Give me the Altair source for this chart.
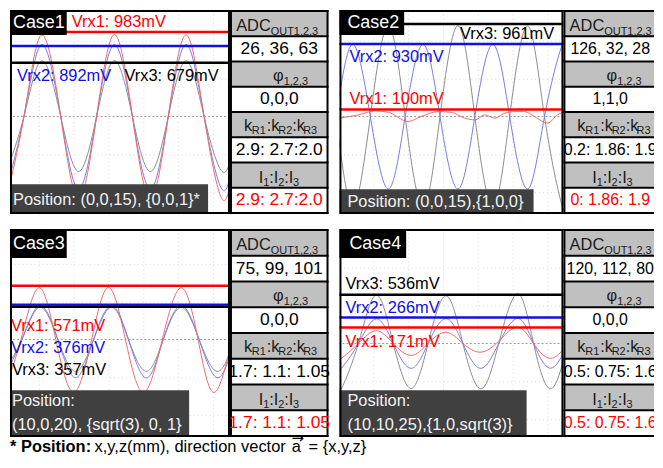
import altair as alt
import pandas as pd

FONT = "Liberation Sans, Arial, Helvetica, sans-serif"

# ---------------- values ----------------
CASES = ["Case1", "Case2", "Case3", "Case4"]
VRX1_MV = [983, 100, 571, 171]
VRX2_MV = [892, 930, 376, 266]
VRX3_MV = [679, 961, 357, 536]
POSITIONS = [
    ["Position: (0,0,15), {0,0,1}*"],
    ["Position: (0,0,15),{1,0,0}"],
    ["Position:", "(10,0,20), {sqrt(3), 0, 1}"],
    ["Position:", "(10,10,25),{1,0,sqrt(3)}"],
]

ADC_OUT = ["26, 36, 63", "126, 32, 28", "75, 99, 101", "120, 112, 80"]
PHI = ["0,0,0", "1,1,0", "0,0,0", "0,0,0"]
K_RATIO = ["2.9: 2.7:2.0", "0.2: 1.86: 1.9", "1.7: 1.1: 1.05", "0.5: 0.75: 1.6"]
I_RATIO = ["2.9: 2.7:2.0", "0: 1.86: 1.9", "1.7: 1.1: 1.05", "0.5: 0.75: 1.6"]

# level (amplitude) lines, screen units (0 = centre line)
LEVEL_RX1 = [1062, 87, 675, 200]
LEVEL_RX2 = [887, 912, 437, 325]
LEVEL_RX3 = [675, 1162, 412, 612]
MIDLINE = [0]

# waveforms: sample positions (t) and readings (v)
C1_T = [0, 2, 20, 38, 57, 75, 93, 111, 129, 147, 165, 183, 201, 219, 230]
C1_RX1 = [-1010, -1025, 0, 1025, 0, -1030, 0, 1030, 0, -1030, 0, 1025, 0, -1035, -620]
C1_RX2 = [-900, -910, 0, 905, 0, -910, 0, 905, 0, -910, 0, 905, 0, -915, -545]
C1_RX3 = [-690, -700, 0, 700, 0, -690, 0, 700, 0, -690, 0, 700, 0, -690, -410]

C2_T = [0, 15, 32, 50, 67, 85, 102, 120, 137, 155, 172, 190, 207, 225, 230]
C2_RX2 = [200, 905, 0, -910, 0, 905, 0, -910, 0, 905, 0, -910, 0, 905, 815]
C2_RX3 = [-250, -1130, 0, 1140, 0, -1130, 0, 1140, 0, -1130, 0, 1140, 0, -1130, -1020]
C2_T1 = [0, 20, 37, 50, 70, 83, 100, 113, 127, 137, 147, 157, 167, 177, 187, 197, 210, 220, 230]
C2_RX1 = [-21, 21, 71, 54, -62, 0, 62, 54, -21, -42, 21, -21, 42, 62, 62, 0, -83, 21, 71]

C3_T1 = [0, 17, 35, 52, 70, 88, 105, 122, 140, 159, 178, 195, 211, 230]
C3_RX1 = [-640, 0, 650, 0, -662, 0, 655, 0, -665, 0, 650, 0, -665, 40]
C3_T2 = [0, 18, 36, 54, 72, 90, 108, 125, 143, 160, 178, 196, 214, 230]
C3_RX2 = [-470, 0, 425, 0, -480, 0, 425, 0, -483, 0, 425, 0, -480, -85]
C3_RX3 = [-390, 0, 405, 0, -400, 0, 405, 0, -400, 0, 405, 0, -400, -70]

C4_T = [0, 3, 20, 38, 55, 73, 90, 108, 125, 143, 161, 180, 196, 213, 230]
C4_RX3 = [-555, -565, 0, 610, 0, -565, 0, 600, 0, -570, 0, 625, 0, -570, -25]
C4_RX2 = [-300, -310, 0, 310, 0, -312, 0, 312, 0, -312, 0, 315, 0, -310, -15]
C4_RX1 = [-180, -185, 0, 160, 0, -150, 0, 141, 0, -109, 30, 204, 0, -187, -10]

GRID_X = [35, 70, 105, 140, 175, 210]
GRID_Y = [-950, -475, 475, 950]

FOOT_BOLD = "* Position:"
FOOT_TEXT = "x,y,z(mm), direction vector"
FOOT_VEC = "a"
FOOT_ARROW = "→"
FOOT_EQ = "= {x,y,z}"

# ---------------- styling / layout ----------------
RED, BLUE, BLACK = "#ff0000", "#1010e0", "#000000"
WAVE_COL = {"r": "#f06a6a", "b": "#7a7ae6", "k": "#8c8c8c"}
HEAD_GRAY = "#c0c0c0"

WAVES = [
    [(C1_T, C1_RX3, "k", "natural"), (C1_T, C1_RX2, "b", "natural"), (C1_T, C1_RX1, "r", "natural")],
    [(C2_T, C2_RX3, "k", "natural"), (C2_T, C2_RX2, "b", "natural"), (C2_T1, C2_RX1, "r", "monotone")],
    [(C3_T2, C3_RX3, "k", "natural"), (C3_T2, C3_RX2, "b", "natural"), (C3_T1, C3_RX1, "r", "natural")],
    [(C4_T, C4_RX3, "k", "natural"), (C4_T, C4_RX2, "b", "natural"), (C4_T, C4_RX1, "r", "natural")],
]

LAYOUT = [
    dict(W=221, H=205, xdom=[6, 227], ydom=[-1225, 1337.5], case_box=(0, 57, 0, 25), case_txt=(3, 13),
         rx_txt=[(62, 12), (7, 66), (115, 66)], pos_box=(0, 199, 175, 205), pos_txt=[(3, 191)]),
    dict(W=225, H=205, xdom=[1, 226], ydom=[-1225, 1337.5], case_box=(0, 65, 0, 25), case_txt=(8, 13),
         rx_txt=[(10, 89), (10, 47), (121, 24)], pos_box=(0, 195, 180, 205), pos_txt=[(8, 193)]),
    dict(W=221, H=209, xdom=[6, 227], ydom=[-1225, 1387.5], case_box=(0, 57, 0, 29), case_txt=(3, 15),
         rx_txt=[(1, 97), (1, 120), (2, 142)], pos_box=(0, 180, 162, 209), pos_txt=[(2, 173), (2, 197)]),
    dict(W=225, H=209, xdom=[1, 226], ydom=[-1175, 1437.5], case_box=(0, 67, 0, 29), case_txt=(10, 15),
         rx_txt=[(6, 114), (6, 79), (6, 55)], pos_box=(0, 188, 162, 209), pos_txt=[(8, 173), (8, 197)]),
]

TABLE_W = [110, 91, 110, 91]    # chart widths (left tables include the gap)
TABLE_VW = [99, 91, 99, 91]     # drawn width of the table
TABLE_RIGHT = [True, False, True, False]   # right border visible (cut off on the right tables)
TABLE_TXT = [(49.5, 17.5), (47, 16), (49.5, 17.5), (47, 16)]


def text_layer(text, x, y, color, size, weight="normal", align="left", baseline="middle", font=FONT):
    return alt.Chart(pd.DataFrame({"label": [text]})).mark_text(
        align=align, baseline=baseline, fontSize=size, fontWeight=weight, color=color, font=font
    ).encode(x=alt.value(x), y=alt.value(y), text="label:N")


def rect_layer(x0, x1, y0, y1, fill, stroke=None, sw=0, opacity=1):
    kw = dict(fill=fill, fillOpacity=opacity)
    if stroke:
        kw.update(stroke=stroke, strokeWidth=sw)
    return alt.Chart(pd.DataFrame({"k": [0]})).mark_rect(**kw).encode(
        x=alt.value(x0), x2=alt.value(x1), y=alt.value(y0), y2=alt.value(y1))


def panel(i):
    L = LAYOUT[i]
    xs = alt.Scale(domain=L["xdom"], nice=False, zero=False)
    ys = alt.Scale(domain=L["ydom"], nice=False, zero=False)
    common = dict(labels=False, ticks=False, domain=False, grid=True, gridColor="#dadada",
                  gridDash=[1, 3], gridWidth=1, title=None, minExtent=0, maxExtent=0)
    xa = alt.Axis(values=GRID_X, **common)
    ya = alt.Axis(values=GRID_Y, **common)
    layers = []
    layers.append(alt.Chart(pd.DataFrame({"v": MIDLINE})).mark_rule(
        color="#9a9a9a", strokeDash=[2, 2], strokeWidth=1).encode(y=alt.Y("v:Q", scale=ys, axis=ya)))
    for t, v, c, interp in WAVES[i]:
        layers.append(alt.Chart(pd.DataFrame({"t": t, "v": v})).mark_line(
            color=WAVE_COL[c], strokeWidth=1, clip=True, interpolate=interp).encode(
            x=alt.X("t:Q", scale=xs, axis=xa), y=alt.Y("v:Q", scale=ys, axis=ya)))
    for lv, col in ((LEVEL_RX3[i], BLACK), (LEVEL_RX2[i], BLUE), (LEVEL_RX1[i], RED)):
        layers.append(alt.Chart(pd.DataFrame({"v": [lv]})).mark_rule(
            color=col, strokeWidth=2.5).encode(y=alt.Y("v:Q", scale=ys, axis=ya)))
    labels = [f"Vrx1: {VRX1_MV[i]}mV", f"Vrx2: {VRX2_MV[i]}mV", f"Vrx3: {VRX3_MV[i]}mV"]
    for lab, col, (x, y) in zip(labels, (RED, BLUE, BLACK), L["rx_txt"]):
        layers.append(text_layer(lab, x, y, col, 16.5))
    layers.append(rect_layer(*L["pos_box"], fill="#404040"))
    for line, (x, y) in zip(POSITIONS[i], L["pos_txt"]):
        layers.append(text_layer(line, x, y, "#f2f2f2", 16.5))
    layers.append(rect_layer(*L["case_box"], fill="#000000"))
    layers.append(text_layer(CASES[i], L["case_txt"][0], L["case_txt"][1], "white", 18))
    layers.append(rect_layer(1, L["W"] - 1, 1, L["H"] - 1, fill="white", stroke="black", sw=2, opacity=0))
    return alt.layer(*layers).properties(width=L["W"], height=L["H"])


# header pieces: (row, text, x, align, main/sub)
HEADER_PIECES = [
    (0, "ADC", 41, "right", "m"), (0, "OUT1,2,3", 41, "left", "s"),
    (2, "φ", 54, "right", "m"), (2, "1,2,3", 54, "left", "s"),
    (4, "k", 14, "left", "m"), (4, "R1", 22, "left", "s"), (4, ":k", 37, "left", "m"),
    (4, "R2", 48.5, "left", "s"), (4, ":k", 62.5, "left", "m"), (4, "R3", 73.5, "left", "s"),
    (6, "I", 29, "left", "m"), (6, "1", 33.4, "left", "s"), (6, ":I", 39.5, "left", "m"),
    (6, "2", 48.4, "left", "s"), (6, ":I", 54.5, "left", "m"), (6, "3", 63.4, "left", "s"),
]
HEAD_DY = {0: (2, 8), 2: (2, 8), 4: (1, 6), 6: (3, 8)}


def table(i):
    W, VW, H = TABLE_W[i], TABLE_VW[i], LAYOUT[i]["H"]
    clip = not TABLE_RIGHT[i]
    rows = pd.DataFrame({"row": list(range(8)), "kind": ["h", "v"] * 4})
    ys = alt.Scale(domain=list(range(8)), range=[1, H - 1], paddingInner=0, paddingOuter=0)
    Y = alt.Y("row:O", scale=ys, axis=None)
    layers = [
        alt.Chart(rows).transform_filter("datum.kind == 'h'").mark_rect(fill=HEAD_GRAY).encode(
            x=alt.value(0), x2=alt.value(VW), y=Y),
        alt.Chart(rows).mark_rule(color="black", strokeWidth=2).encode(
            x=alt.value(0), x2=alt.value(VW), y=alt.Y("row:O", scale=ys, axis=None, bandPosition=0)),
        alt.Chart(pd.DataFrame({"k": [0]})).mark_rule(color="black", strokeWidth=2).encode(
            x=alt.value(0), x2=alt.value(VW), y=alt.value(H - 1)),
        alt.Chart(pd.DataFrame({"k": [0]})).mark_rule(color="black", strokeWidth=2).encode(
            x=alt.value(1), y=alt.value(0), y2=alt.value(H)),
    ]
    if TABLE_RIGHT[i]:
        layers.append(alt.Chart(pd.DataFrame({"k": [0]})).mark_rule(color="black", strokeWidth=2).encode(
            x=alt.value(VW - 1), y=alt.value(0), y2=alt.value(H)))
    cx, fs = TABLE_TXT[i]
    vals = pd.DataFrame({"row": [1, 3, 5, 7], "label": [ADC_OUT[i], PHI[i], K_RATIO[i], I_RATIO[i]]})
    layers.append(alt.Chart(vals).mark_text(fontSize=fs, font=FONT, baseline="middle", clip=clip).encode(
        x=alt.value(cx), y=Y, text="label:N",
        color=alt.condition("datum.row == 7", alt.value(RED), alt.value("black"))))
    for r, s, x, al, kind in HEADER_PIECES:
        dy = HEAD_DY[r][0] if kind == "m" else HEAD_DY[r][1]
        size = 16.5 if kind == "m" else 11
        layers.append(alt.Chart(pd.DataFrame({"row": [r], "label": [s]})).mark_text(
            align=al, baseline="middle", fontSize=size, font=FONT, color="#1a1a1a", dy=dy).encode(
            x=alt.value(x), y=Y, text="label:N"))
    return alt.layer(*layers).properties(width=W, height=H)


def footnote():
    layers = [
        text_layer(FOOT_BOLD, 0, 0, "black", 16.5, weight="bold", baseline="alphabetic"),
        text_layer(FOOT_TEXT, 85, 0, "black", 16.5, baseline="alphabetic"),
        text_layer(FOOT_VEC, 283, 0, "black", 16.5, baseline="alphabetic"),
        text_layer(FOOT_ARROW, 289, -14, "black", 15, align="center", font="DejaVu Sans"),
        text_layer(FOOT_EQ, 300, 0, "black", 16.5, baseline="alphabetic"),
    ]
    return alt.layer(*layers).properties(width=221, height=4)


cells = [panel(0), table(0), panel(1), table(1), panel(2), table(2), panel(3), table(3), footnote()]
chart = alt.concat(*cells, columns=4, spacing={"row": 15, "column": 0}, bounds="flush", align="each").properties(
    padding={"left": 0, "top": 0, "right": 0, "bottom": 0}, background="white"
).configure_view(stroke=None).resolve_scale(x="independent", y="independent")

chart.save("out.html", embed_options={"renderer": "svg", "actions": False})
